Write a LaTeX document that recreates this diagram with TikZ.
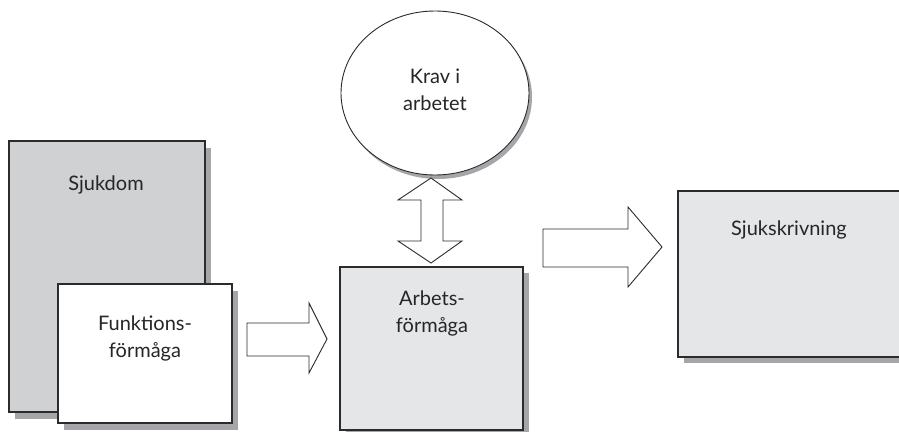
\documentclass[tikz,border=0pt]{standalone}
\usepackage{fontspec}
\setmainfont{Lato}
\usetikzlibrary{shapes.geometric}
\definecolor{darkfill}{HTML}{D0D1D3}
\definecolor{lightfill}{HTML}{E5E6E8}
\definecolor{shadowgray}{HTML}{A6A6AA}
\definecolor{edge}{HTML}{2B2B2B}
\tikzset{
  box/.style={draw=edge, line width=1.1pt},
  shade/.style={fill=shadowgray, draw=none},
  blockarrow/.style={draw=edge, line width=0.9pt, fill=white, line join=miter},
  label/.style={font=\fontsize{20}{27}\selectfont, text=black!85, align=center}
}
\begin{document}
\begin{tikzpicture}[x=1pt, y=-1pt]
  \useasboundingbox (0,0) rectangle (899,431);
  \begin{scope}
    \clip (0,0) rectangle (899,431);
    % Sjukdom
    \fill[shade] (15,148) rectangle (211,419);
    \filldraw[box, fill=darkfill] (9,141) rectangle (205,412);
    \coordinate (sjukdom) at (107,276);
    % Funktionsförmåga
    \fill[shade] (64,291) rectangle (238,430);
    \filldraw[box, fill=white] (58,284) rectangle (232,423);
    \coordinate (funk) at (145,353);
    % Arbetsförmåga
    \fill[shade] (346,273) rectangle (529,437);
    \filldraw[box, fill=lightfill] (340,267) rectangle (523,430);
    \coordinate (arb) at (431,348);
    % Sjukskrivning
    \fill[shade] (684,197) rectangle (920,363);
    \filldraw[box, fill=lightfill] (678,191) rectangle (914,357);
    \coordinate (sjs) at (796,274);
    % Krav i arbetet
    \fill[shadowgray] (438,97) ellipse [x radius=94, y radius=82];
    \filldraw[draw=edge, line width=0.9pt, fill=white] (435,93) ellipse [x radius=94, y radius=82];
    \coordinate (krav) at (435,93);
  \end{scope}

  % text labels
  \node[label] (t1) at (106,185) {Sjukdom};
  \node[label] (t2) at (145,338) {Funktions-\\förmåga};
  \node[label] (t3) at (432,313) {Arbets-\\förmåga};
  \node[label] (t4) at (435,90) {Krav i\\arbetet};
  \node[label] (t5) at (789,230) {Sjukskrivning};

  % block arrow: Funktionsförmåga -> Arbetsförmåga
  \draw[blockarrow] (247,323) -- (309,323) -- (309,303) -- (327,339)
    -- (309,373) -- (309,356) -- (247,356) -- cycle;
  % block arrow: Arbetsförmåga -> Sjukskrivning
  \draw[blockarrow] (543,229) -- (628,229) -- (628,207) -- (662,247)
    -- (628,287) -- (628,267) -- (543,267) -- cycle;
  % double block arrow: Krav i arbetet <-> Arbetsförmåga
  \draw[blockarrow] (431,178) -- (462,200) -- (443,200) -- (443,241)
    -- (462,241) -- (431,263) -- (398,241) -- (421,241) -- (421,200)
    -- (398,200) -- cycle;
\end{tikzpicture}
\end{document}
